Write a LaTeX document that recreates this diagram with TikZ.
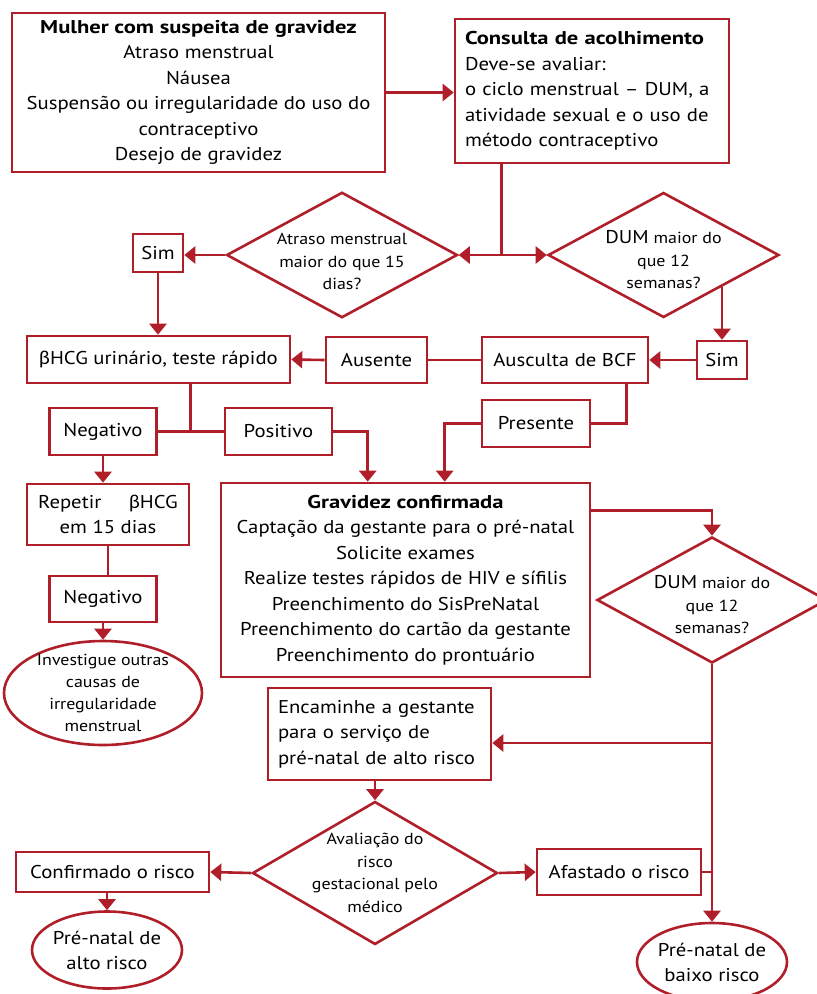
\documentclass[tikz,border=0pt]{standalone}
\usepackage{fontspec}
\setmainfont{PT Sans}[UprightFeatures={FakeStretch=1.12}, BoldFeatures={FakeStretch=1.22}]
\newfontfamily\grkfont{Lato}[FakeStretch=1.05]
\usepackage{tikz}
\usetikzlibrary{shapes.geometric, arrows.meta, positioning}
\definecolor{flowred}{RGB}{176,30,42}
\newcommand{\bhcg}{{\grkfont β}HCG}

\begin{document}
\begin{tikzpicture}[x=1pt, y=-1pt, color=flowred, line width=2.6pt, >={Triangle[length=11pt, width=17pt]},
		box/.style={draw, rectangle, inner sep=0pt, align=center, text=black, font=\fontsize{18.5}{25.5}\selectfont},
		decision/.style={draw, diamond, aspect=1.84, inner sep=-5pt, align=center, text=black, font=\fontsize{16}{22.5}\selectfont},
		ending/.style={draw, ellipse, inner sep=-6pt, align=center, text=black, font=\fontsize{18.5}{25}\selectfont}]
	\useasboundingbox (0,0) rectangle (817,994);
	\node[box, minimum width=373pt, minimum height=159pt] (Mulher) at (198.5,92.5) {\textbf{Mulher com suspeita de gravidez}\\Atraso menstrual\\Náusea\\Suspensão ou irregularidade do uso do\\contraceptivo\\Desejo de gravidez};
	\node[box, minimum width=274pt, minimum height=144pt, text width=254pt, inner xsep=10pt, align=left] (Consulta) at (592,91) {\textbf{Consulta de acolhimento}\\Deve-se avaliar:\\o ciclo menstrual \textendash{} DUM, a\\atividade sexual e o uso de\\método contraceptivo};
	\node[decision, minimum width=230pt, minimum height=125pt] (Atraso) at (342,255) {\rule{0pt}{25pt}Atraso menstrual\\maior do que 15\\dias?};
	\node[decision, minimum width=231pt, minimum height=125pt] (DUMa) at (663.5,255) {\rule{0pt}{23pt}{\fontsize{18.5}{22.5}\selectfont DUM} maior do\\que 12\\semanas?};
	\node[box, minimum width=50pt, minimum height=38pt] (SimA) at (158,253) {Sim};
	\node[box, minimum width=263pt, minimum height=47pt] (HCG) at (158.5,359.5) {\bhcg{} urinário, teste rápido};
	\node[box, minimum width=101pt, minimum height=46pt] (Ausente) at (376.5,360) {Ausente};
	\node[box, minimum width=166pt, minimum height=46pt] (Ausculta) at (565,360) {Ausculta de BCF};
	\node[box, minimum width=50pt, minimum height=38pt] (SimB) at (722,360) {Sim};
	\node[box, minimum width=107pt, minimum height=47pt] (NegA) at (103,431.5) {Negativo};
	\node[box, minimum width=107pt, minimum height=47pt] (Positivo) at (278.5,431.5) {Positivo};
	\node[box, minimum width=108pt, minimum height=47pt] (Presente) at (536,423.5) {Presente};
	\node[box, minimum width=162pt, minimum height=61pt] (Repetir) at (108,514.5) {Repetir\hspace{1.5em}\bhcg\\em 15 dias};
	\node[box, minimum width=107pt, minimum height=46pt] (NegB) at (103,599) {Negativo};
	\node[ending, font=\fontsize{16}{22}\selectfont, minimum width=198pt, minimum height=104pt] (Investigue) at (103,693) {Investigue outras\\causas de\\irregularidade\\menstrual};
	\node[box, minimum width=369pt, minimum height=194pt] (Gravidez) at (405.5,580) {\textbf{Gravidez confirmada}\\Captação da gestante para o pré-natal\\Solicite exames\\Realize testes rápidos de HIV e sífilis\\Preenchimento do SisPreNatal\\Preenchimento do cartão da gestante\\Preenchimento do prontuário};
	\node[decision, aspect=1.83, minimum width=230pt, minimum height=126pt] (DUMb) at (712,600) {\rule{0pt}{23pt}{\fontsize{18.5}{22.5}\selectfont DUM} maior do\\que 12\\semanas?};
	\node[box, minimum width=223pt, minimum height=92pt, text width=203pt, inner xsep=10pt, align=left] (Encaminhe) at (379.5,734) {Encaminhe a gestante\\para o serviço de\\pré-natal de alto risco};
	\node[decision, aspect=1.71, minimum width=245pt, minimum height=143pt] (Avaliacao) at (375,873) {Avaliação do\\risco\\gestacional pelo\\médico};
	\node[box, minimum width=193pt, minimum height=40pt] (Confirmado) at (112.5,872) {Confirmado o risco};
	\node[box, minimum width=164pt, minimum height=46pt] (Afastado) at (619,872) {Afastado o risco};
	\node[ending, minimum width=150pt, minimum height=77pt] (Alto) at (107,950) {Pré-natal de\\alto risco};
	\node[ending, minimum width=150pt, minimum height=78pt] (Baixo) at (712,962) {Pré-natal de\\baixo risco};

	\draw[->] (Mulher.east) -- (Mulher.east -| Consulta.west);
	\coordinate (cs) at ([xshift=48pt]Consulta.south west);
	\coordinate (split) at (cs |- Atraso.east);
	\draw (cs) -- (split);
	\draw[->] (split) -- (Atraso.east);
	\draw[->] (split) -- (DUMa.west);
	\draw[->] (Atraso.west) -- (Atraso.west -| SimA.east);
	\draw[->] (SimA.south) -- (SimA.south |- HCG.north);
	\draw[->] (SimB.north |- DUMa.south east) -- (SimB.north);
	\draw[->] (SimB.west) -- (Ausculta.east);
	\draw (Ausculta.west) -- (Ausente.east);
	\draw[->] (Ausente.west) -- (HCG.east);
	\coordinate (hs) at ([xshift=32pt]HCG.south);
	\draw (hs) -- (hs |- Positivo.west);
	\draw (NegA.east) -- (Positivo.west);
	\draw[->] (Positivo.east) -| ([xshift=148pt]Gravidez.north west);
	\draw ([xshift=-23pt]Ausculta.south east) |- (Presente.east);
	\draw[->] (Presente.west) -| ([xshift=225pt]Gravidez.north west);
	\draw[->] (NegA.south) -- (NegA.south |- Repetir.north);
	\draw (Repetir.south) -- (Repetir.south |- NegB.north);
	\draw[->] (NegB.south) -- (Investigue.north);
	\draw[->] ([yshift=-29pt]Gravidez.north east) -| (DUMb.north);
	\draw[->] (DUMb.south) -- (Baixo.north);
	\coordinate (enc) at ([yshift=-9pt]Encaminhe.east);
	\draw[->] (enc -| DUMb.south) -- (enc);
	\draw (Afastado.east) -- (Afastado.east -| DUMb.south);
	\draw[->] (Avaliacao.north |- Encaminhe.south) -- (Avaliacao.north);
	\draw[->] (Avaliacao.west) -- (Confirmado.east);
	\draw[->] (Avaliacao.east) -- (Afastado.west);
	\draw[->] (Confirmado.south -| Alto.north) -- (Alto.north);
\end{tikzpicture}
\end{document}
